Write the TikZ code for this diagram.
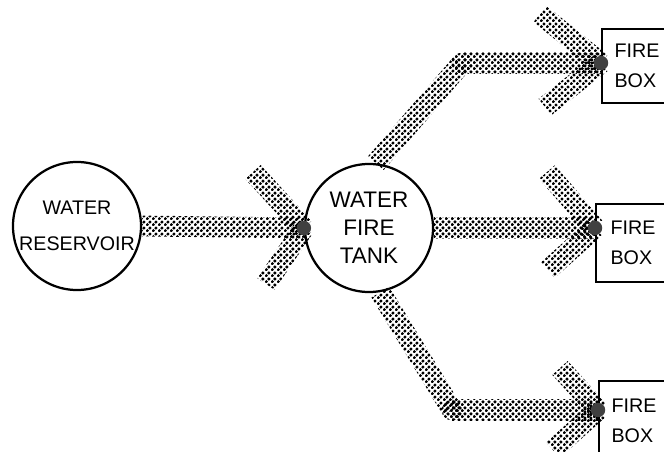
\documentclass[tikz,border=0pt]{standalone}
\usepackage{fontspec}
\setmainfont{Liberation Sans}
\usetikzlibrary{calc,patterns}
% stippled ink of the flow bands
\pgfdeclarepatternformonly{halftone}{\pgfpointorigin}{\pgfqpoint{4pt}{4pt}}{\pgfqpoint{4pt}{4pt}}{%
  \pgfpathcircle{\pgfqpoint{1pt}{1pt}}{1.3pt}%
  \pgfpathcircle{\pgfqpoint{3pt}{3pt}}{1.3pt}%
  \pgfusepath{fill}}
% a straight band from #1 to #2
\newcommand{\flowband}[2]{%
  \fill[band] ($(#1)!0.26cm!90:(#2)$) -- ($(#1)!0.26cm!-90:(#2)$)
    -- ($(#2)!0.26cm!90:(#1)$) -- ($(#2)!0.26cm!-90:(#1)$) -- cycle;}

\begin{document}
\begin{tikzpicture}[x=0.025cm, y=-0.025cm,
    vessel/.style={circle, draw, line width=1.6pt, minimum size=3.2cm,
      inner sep=0pt, align=center},
    firebox/.style={draw, line width=1.4pt, anchor=north west, align=left,
      minimum width=1.75cm, inner sep=2pt, font=\fontsize{14}{21}\selectfont},
    band/.style={pattern=halftone, pattern color=black},
    blot/.style={fill=black!75}
  ]
  \useasboundingbox (0,0) rectangle (664,452);

  % vessels
  \node[vessel, font=\fontsize{14}{26}\selectfont] (res) at (77,226) {WATER\\RESERVOIR};
  \node[vessel, font=\fontsize{16}{20}\selectfont] (tank) at (369,228) {WATER\\FIRE\\TANK};

  % fire boxes
  \node[firebox, minimum height=1.85cm] (fb1) at (601,28) {FIRE\\BOX};
  \node[firebox, minimum height=1.95cm, minimum width=1.85cm] (fb2) at (595,203) {FIRE\\BOX};
  \node[firebox, minimum height=2.0cm] (fb3) at (598,380) {FIRE\\BOX};

  % bends and heads
  \coordinate (e1) at (462,63);
  \coordinate (e3) at (452,410);
  \coordinate (h1) at (e1 -| fb1.west);
  \coordinate (h2) at (tank.east -| fb2.west);
  \coordinate (h3) at (e3 -| fb3.west);
  \coordinate (a0) at (253,172); \coordinate (b0) at (266,284);
  \coordinate (a1) at (540,14);  \coordinate (b1) at (545,107);
  \coordinate (a2) at (547,172); \coordinate (b2) at (548,270);
  \coordinate (a3) at (560,368); \coordinate (b3) at (553,450);

  % reservoir to tank
  \flowband{res.east}{tank.west}
  \flowband{a0}{tank.west}
  \flowband{b0}{tank.west}
  \fill[blot] (tank.west) circle (0.18cm);

  % upper branch
  \flowband{tank.84}{e1}
  \fill[band] (e1) circle (0.26cm);
  \flowband{e1}{h1}
  \flowband{a1}{h1}
  \flowband{b1}{h1}
  \fill[blot] (h1) circle (0.18cm);

  % middle branch
  \flowband{tank.east}{h2}
  \flowband{a2}{h2}
  \flowband{b2}{h2}
  \fill[blot] (h2) circle (0.18cm);

  % lower branch
  \flowband{tank.-80}{e3}
  \fill[band] (e3) circle (0.26cm);
  \flowband{e3}{h3}
  \flowband{a3}{h3}
  \flowband{b3}{h3}
  \fill[blot] (h3) circle (0.18cm);
\end{tikzpicture}
\end{document}
